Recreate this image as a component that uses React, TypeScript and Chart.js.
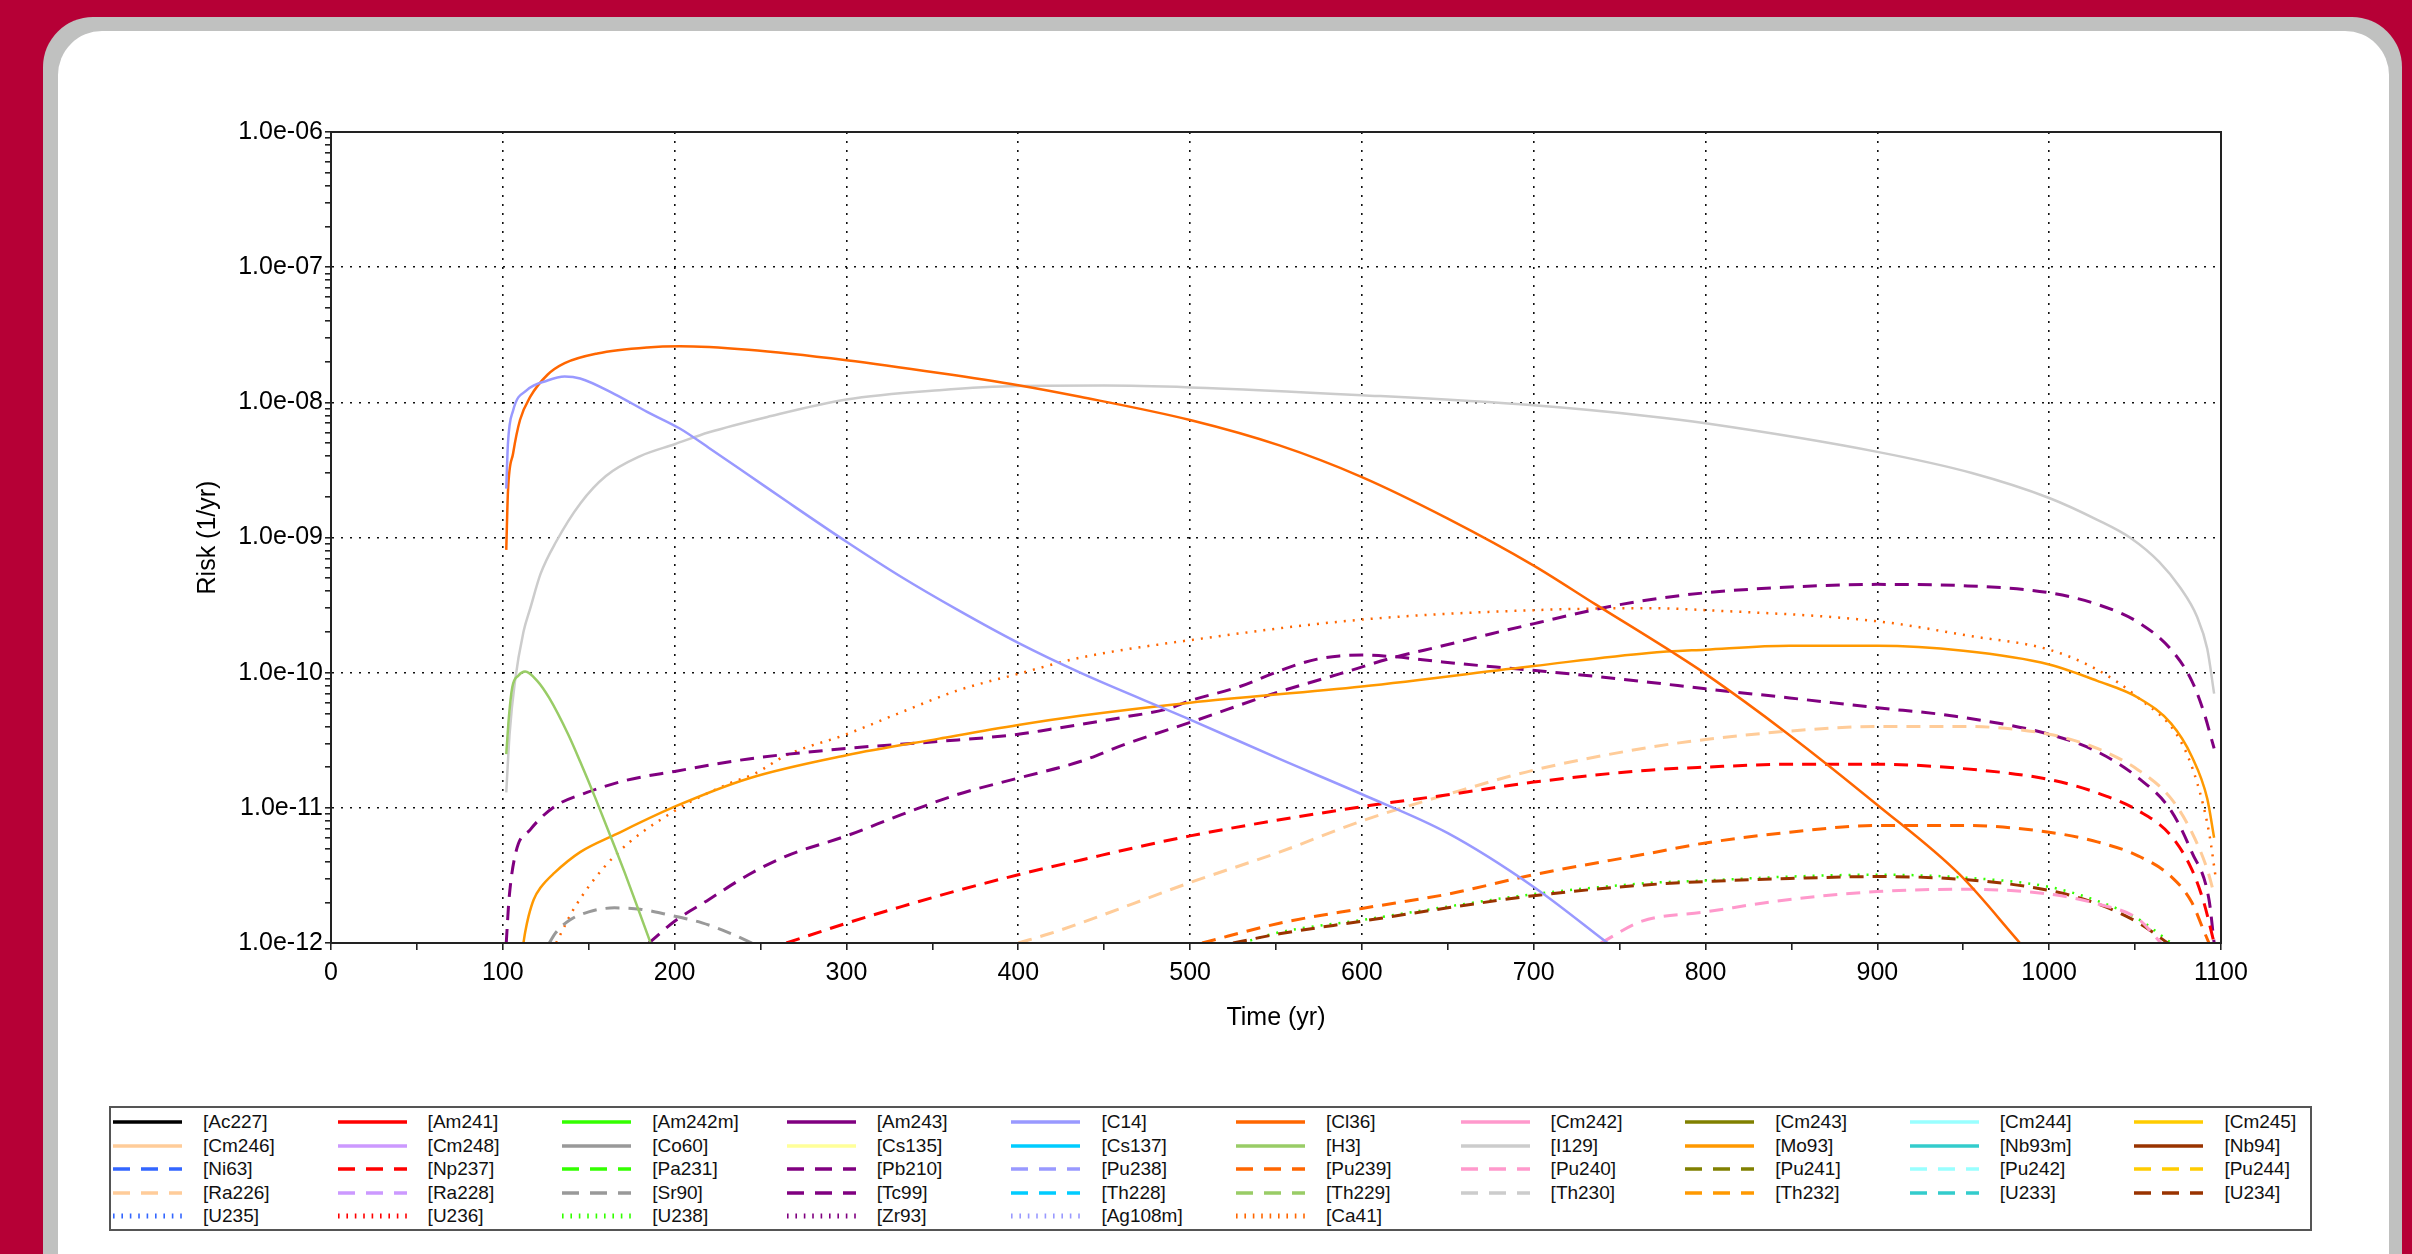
import React, { useEffect, useRef } from 'react';
import { Chart, registerables } from 'chart.js';

Chart.register(...registerables);

const FONT = '"Liberation Sans", Arial, Helvetica, sans-serif';

// ---------- legend entries (row-major, 10 columns) ----------
const NUCLIDES = [
  'Ac227', 'Am241', 'Am242m', 'Am243', 'C14', 'Cl36', 'Cm242', 'Cm243', 'Cm244', 'Cm245',
  'Cm246', 'Cm248', 'Co60', 'Cs135', 'Cs137', 'H3', 'I129', 'Mo93', 'Nb93m', 'Nb94',
  'Ni63', 'Np237', 'Pa231', 'Pb210', 'Pu238', 'Pu239', 'Pu240', 'Pu241', 'Pu242', 'Pu244',
  'Ra226', 'Ra228', 'Sr90', 'Tc99', 'Th228', 'Th229', 'Th230', 'Th232', 'U233', 'U234',
  'U235', 'U236', 'U238', 'Zr93', 'Ag108m', 'Ca41',
];
const COLORS = [
  '#000000', '#ff0000', '#33ff00', '#800080', '#9999ff', '#ff6600', '#ff99cc', '#808000', '#99ffff', '#ffcc00',
  '#ffcc99', '#cc99ff', '#999999', '#ffff99', '#00ccff', '#99cc66', '#cccccc', '#ff9900', '#33cccc', '#993300',
  '#3366ff', '#ff0000', '#33ff00', '#800080', '#9999ff', '#ff6600', '#ff99cc', '#808000', '#99ffff', '#ffcc00',
  '#ffcc99', '#cc99ff', '#999999', '#800080', '#00ccff', '#99cc66', '#cccccc', '#ff9900', '#33cccc', '#993300',
  '#3366ff', '#ff0000', '#33ff00', '#800080', '#9999ff', '#ff6600',
];
const STYLES = [
  'solid', 'solid', 'solid', 'solid', 'solid', 'solid', 'solid', 'solid', 'solid', 'solid',
  'solid', 'solid', 'solid', 'solid', 'solid', 'solid', 'solid', 'solid', 'solid', 'solid',
  'dash', 'dash', 'dash', 'dash', 'dash', 'dash', 'dash', 'dash', 'dash', 'dash',
  'dash', 'dash', 'dash', 'dash', 'dash', 'dash', 'dash', 'dash', 'dash', 'dash',
  'dot', 'dot', 'dot', 'dot', 'dot', 'dot',
];

// ---------- series: [time (yr), risk (1/yr)] ----------
const cl36: [number, number][] = [
  [102, 8.1e-10], [103, 2.2e-9], [106, 4.2e-9], [110, 7.4e-9], [116, 1.1e-8], [126, 1.6e-8],
  [136, 1.95e-8], [155, 2.3e-8], [184, 2.55e-8], [203, 2.6e-8], [243, 2.45e-8], [300, 2.05e-8],
  [354, 1.65e-8], [400, 1.34e-8], [436, 1.1e-8], [500, 7.4e-9], [552, 4.8e-9], [600, 2.8e-9],
  [650, 1.38e-9], [700, 6.2e-10], [736, 3.2e-10], [781, 1.41e-10], [800, 9.8e-11], [847, 3.6e-11],
  [900, 1.05e-11], [948, 3.2e-12], [983, 1.0e-12],
];
const c14: [number, number][] = [
  [102, 2.3e-9], [103, 5e-9], [106, 8.7e-9], [114, 1.23e-8], [126, 1.45e-8], [136, 1.55e-8],
  [145, 1.5e-8], [165, 1.15e-8], [184, 8.5e-9], [203, 6.4e-9], [220, 4.6e-9], [243, 2.9e-9],
  [265, 1.86e-9], [300, 9.3e-10], [332, 5.1e-10], [365, 2.9e-10], [400, 1.66e-10], [436, 1.0e-10],
  [500, 4.5e-11], [552, 2.3e-11], [600, 1.26e-11], [650, 6.5e-12], [700, 2.6e-12], [743, 1e-12],
];
const i129: [number, number][] = [
  [102, 1.3e-11], [104, 3.6e-11], [107, 8.5e-11], [112, 2e-10], [116, 3e-10], [122, 5.4e-10],
  [131, 9.3e-10], [145, 1.78e-9], [160, 2.85e-9], [180, 4.0e-9], [200, 4.9e-9], [220, 6.0e-9],
  [254, 7.8e-9], [300, 1.05e-8], [354, 1.23e-8], [400, 1.32e-8], [450, 1.33e-8], [500, 1.29e-8],
  [600, 1.13e-8], [700, 9.5e-9], [767, 7.9e-9], [800, 7e-9], [900, 4.3e-9], [955, 3.0e-9],
  [1000, 1.96e-9], [1028, 1.35e-9], [1048, 9.8e-10], [1064, 6.6e-10], [1076, 4.3e-10],
  [1086, 2.6e-10], [1092, 1.5e-10], [1096, 7e-11],
];
const h3: [number, number][] = [
  [102, 2.5e-11], [103.6, 4.8e-11], [105.5, 7.8e-11], [109, 9.5e-11], [113, 1.02e-10],
  [120, 8.7e-11], [127, 6.5e-11], [138, 3.5e-11], [145, 2.2e-11], [154, 1.17e-11],
  [165, 5.2e-12], [171, 3.3e-12], [178, 1.9e-12], [186, 1e-12],
];
const mo93: [number, number][] = [
  [112, 1e-12], [113, 1.2e-12], [115, 1.58e-12], [118, 2.1e-12], [122, 2.57e-12], [130, 3.3e-12],
  [145, 4.7e-12], [165, 6.3e-12], [200, 1.02e-11], [243, 1.65e-11], [300, 2.45e-11],
  [354, 3.25e-11], [400, 4.1e-11], [436, 4.8e-11], [500, 6e-11], [600, 7.9e-11], [700, 1.12e-10],
  [767, 1.4e-10], [800, 1.48e-10], [849, 1.58e-10], [900, 1.58e-10], [950, 1.45e-10],
  [1000, 1.15e-10], [1028, 8.7e-11], [1052, 6.5e-11], [1071, 4.2e-11], [1083, 2.4e-11],
  [1092, 1.17e-11], [1096, 6e-12],
];
const ca41: [number, number][] = [
  [131, 1e-12], [142, 1.85e-12], [165, 4.4e-12], [200, 9.5e-12], [231, 1.5e-11], [247, 1.8e-11],
  [265, 2.45e-11], [300, 3.5e-11], [332, 5.1e-11], [365, 7.4e-11], [400, 9.8e-11], [436, 1.29e-10],
  [500, 1.74e-10], [600, 2.47e-10], [700, 2.9e-10], [767, 3e-10], [800, 2.9e-10], [900, 2.4e-10],
  [955, 1.86e-10], [1000, 1.48e-10], [1028, 1.05e-10], [1052, 6.5e-11], [1076, 3.2e-11],
  [1086, 1.55e-11], [1093, 6.6e-12], [1097, 3e-12],
];
const tc99: [number, number][] = [
  [102, 1e-12], [103.6, 2.1e-12], [107.6, 4.7e-12], [116, 6.9e-12], [130, 1.02e-11],
  [149, 1.3e-11], [172, 1.6e-11], [200, 1.86e-11], [243, 2.3e-11], [300, 2.75e-11],
  [354, 3.1e-11], [400, 3.5e-11], [418, 3.8e-11], [462, 4.7e-11], [487, 5.4e-11], [500, 6.2e-11],
  [529, 7.9e-11], [545, 9.5e-11], [558, 1.1e-10], [574, 1.26e-10], [587, 1.33e-10],
  [600, 1.35e-10], [616, 1.32e-10], [647, 1.2e-10], [678, 1.1e-10], [707, 1.02e-10],
  [739, 9.3e-11], [767, 8.5e-11], [800, 7.6e-11], [849, 6.5e-11], [900, 5.5e-11], [943, 4.8e-11],
  [1000, 3.5e-11], [1028, 2.6e-11], [1052, 1.66e-11], [1071, 9.5e-12], [1083, 4.7e-12],
  [1093, 2.1e-12], [1096, 1e-12],
];
const pb210: [number, number][] = [
  [185, 1e-12], [200, 1.45e-12], [220, 2.1e-12], [243, 3.2e-12], [265, 4.4e-12], [300, 6.2e-12],
  [332, 8.9e-12], [365, 1.26e-11], [400, 1.66e-11], [436, 2.2e-11], [462, 2.95e-11],
  [505, 4.5e-11], [547, 6.9e-11], [587, 9.8e-11], [618, 1.29e-10], [647, 1.58e-10],
  [676, 1.95e-10], [703, 2.35e-10], [734, 2.9e-10], [763, 3.4e-10], [800, 3.9e-10],
  [849, 4.3e-10], [900, 4.5e-10], [950, 4.4e-10], [1000, 3.9e-10], [1028, 3.2e-10],
  [1052, 2.35e-10], [1071, 1.48e-10], [1083, 8.7e-11], [1090, 5.1e-11], [1096, 2.75e-11],
];
const sr90: [number, number][] = [
  [127, 1e-12], [131, 1.2e-12], [139, 1.48e-12], [150, 1.7e-12], [165, 1.82e-12], [180, 1.78e-12],
  [196, 1.62e-12], [216, 1.41e-12], [231, 1.2e-12], [245, 1e-12],
];
const np237: [number, number][] = [
  [265, 1e-12], [300, 1.4e-12], [332, 1.86e-12], [365, 2.45e-12], [400, 3.2e-12], [436, 4.1e-12],
  [500, 6.2e-12], [600, 1.02e-11], [650, 1.25e-11], [700, 1.55e-11], [767, 1.9e-11], [800, 2e-11],
  [849, 2.1e-11], [900, 2.1e-11], [950, 1.95e-11], [1000, 1.62e-11], [1028, 1.29e-11],
  [1052, 9.5e-12], [1071, 6.2e-12], [1083, 3.5e-12], [1090, 2e-12], [1096, 1e-12],
];
const ra226: [number, number][] = [
  [400, 1e-12], [418, 1.17e-12], [436, 1.4e-12], [500, 2.8e-12], [552, 4.7e-12], [600, 8e-12],
  [650, 1.26e-11], [700, 1.9e-11], [767, 2.8e-11], [800, 3.2e-11], [849, 3.7e-11], [900, 4e-11],
  [950, 4e-11], [1000, 3.5e-11], [1028, 2.75e-11], [1052, 1.9e-11], [1071, 1.17e-11],
  [1083, 6.6e-12], [1092, 3.5e-12], [1096, 2.3e-12],
];
const pu239: [number, number][] = [
  [507, 1e-12], [552, 1.4e-12], [600, 1.8e-12], [650, 2.3e-12], [700, 3.2e-12], [767, 4.6e-12],
  [800, 5.5e-12], [849, 6.6e-12], [900, 7.4e-12], [950, 7.4e-12], [1000, 6.6e-12], [1028, 5.6e-12],
  [1052, 4.4e-12], [1071, 3.1e-12], [1083, 2e-12], [1090, 1.23e-12], [1093, 1e-12],
];
const u234: [number, number][] = [
  [525, 1e-12], [552, 1.17e-12], [600, 1.45e-12], [650, 1.82e-12], [700, 2.24e-12], [767, 2.7e-12],
  [800, 2.85e-12], [849, 3e-12], [900, 3.1e-12], [950, 2.95e-12], [1000, 2.45e-12], [1028, 1.95e-12],
  [1052, 1.41e-12], [1069, 1e-12],
];
const u238: [number, number][] = [
  [530, 1e-12], [552, 1.2e-12], [600, 1.48e-12], [650, 1.86e-12], [700, 2.3e-12], [767, 2.78e-12],
  [800, 2.9e-12], [849, 3.1e-12], [900, 3.2e-12], [950, 3.05e-12], [1000, 2.6e-12], [1028, 2.05e-12],
  [1052, 1.5e-12], [1071, 1e-12],
];
const pu240: [number, number][] = [
  [739, 1e-12], [763, 1.45e-12], [800, 1.7e-12], [849, 2.1e-12], [900, 2.4e-12], [950, 2.5e-12],
  [1000, 2.3e-12], [1028, 1.95e-12], [1052, 1.5e-12], [1065, 1e-12],
];

const SERIES: Record<string, [number, number][]> = {
  Cl36: cl36, C14: c14, I129: i129, H3: h3, Mo93: mo93, Ca41: ca41, Tc99: tc99, Pb210: pb210,
  Sr90: sr90, Np237: np237, Ra226: ra226, Pu239: pu239, U234: u234, U238: u238, Pu240: pu240,
};

// ---------- axes ----------
const X_MIN = 0;
const X_MAX = 1100;
const X_LABELS = ['0', '100', '200', '300', '400', '500', '600', '700', '800', '900', '1000', '1100'];
const Y_EXPONENTS = [-12, -11, -10, -9, -8, -7, -6];
const Y_LABELS = ['1.0e-12', '1.0e-11', '1.0e-10', '1.0e-09', '1.0e-08', '1.0e-07', '1.0e-06'];

const decadeIndex = (v: number): number => {
  if (!(v > 0)) return -1;
  const e = Math.log10(v);
  const r = Math.round(e);
  if (Math.abs(e - r) > 1e-6) return -1;
  return Y_EXPONENTS.indexOf(r);
};

const dashFor = (s: string): number[] => (s === 'dash' ? [14, 9] : s === 'dot' ? [2, 7] : []);
const widthFor = (s: string): number => (s === 'dash' ? 3 : 2.5);

const framePlugin = {
  id: 'frame',
  afterDatasetsDraw(chart: any) {
    const { ctx, chartArea } = chart;
    ctx.save();
    ctx.strokeStyle = '#222';
    ctx.lineWidth = 2;
    ctx.strokeRect(chartArea.left, chartArea.top, chartArea.right - chartArea.left, chartArea.bottom - chartArea.top);
    ctx.restore();
  },
};

function ChartCanvas() {
  const ref = useRef<HTMLCanvasElement | null>(null);
  useEffect(() => {
    if (!ref.current) return;
    const datasets = NUCLIDES.map((name, i) => ({
      label: name,
      data: (SERIES[name] || []).map(([x, y]) => ({ x, y })),
      borderColor: COLORS[i],
      backgroundColor: COLORS[i],
      borderWidth: widthFor(STYLES[i]),
      borderDash: dashFor(STYLES[i]),
      pointRadius: 0,
      fill: false,
      cubicInterpolationMode: 'monotone' as const,
    }));
    const chart = new Chart(ref.current, {
      type: 'line',
      data: { datasets },
      options: {
        animation: false,
        responsive: false,
        maintainAspectRatio: false,
        devicePixelRatio: 1,
        layout: { padding: { left: 131, top: 132, right: 191, bottom: 57 } },
        plugins: { legend: { display: false }, tooltip: { enabled: false }, title: { display: false } },
        scales: {
          x: {
            type: 'linear',
            min: X_MIN,
            max: X_MAX,
            afterFit: (s: any) => { s.height = 100; },
            ticks: {
              stepSize: 50,
              autoSkip: false,
              maxRotation: 0,
              padding: 8,
              color: '#000',
              font: { family: FONT, size: 25 },
              callback: (v: any) => {
                const n = Number(v);
                return n % 100 === 0 ? X_LABELS[n / 100] : '';
              },
            },
            grid: {
              color: (c: any) => {
                const v = c.tick ? c.tick.value : -1;
                return v % 100 === 0 && v > X_MIN && v < X_MAX ? '#111' : 'rgba(0,0,0,0)';
              },
              lineWidth: 1.6,
              tickColor: '#222',
              tickLength: 7,
              tickWidth: 1.6,
            },
            border: { display: true, color: '#222', width: 2, dash: [2, 7] },
            title: {
              display: true,
              text: 'Time (yr)',
              color: '#000',
              font: { family: FONT, size: 25 },
              padding: { top: 0, bottom: 10 },
            },
          },
          y: {
            type: 'logarithmic',
            min: 1e-12,
            max: 1e-6,
            afterFit: (s: any) => { s.width = 200; },
            afterBuildTicks: (s: any) => {
              const t: { value: number }[] = [];
              for (let k = 0; k < Y_EXPONENTS.length - 1; k++) {
                for (let m = 1; m <= 9; m++) t.push({ value: m * Math.pow(10, Y_EXPONENTS[k]) });
              }
              t.push({ value: Math.pow(10, Y_EXPONENTS[Y_EXPONENTS.length - 1]) });
              s.ticks = t;
            },
            ticks: {
              autoSkip: false,
              padding: 2,
              color: '#000',
              font: { family: FONT, size: 25 },
              callback: (v: any) => {
                const idx = decadeIndex(Number(v));
                return idx >= 0 ? Y_LABELS[idx] : '';
              },
            },
            grid: {
              color: (c: any) => {
                const v = c.tick ? c.tick.value : 0;
                const idx = decadeIndex(v);
                return idx > 0 && idx < Y_EXPONENTS.length - 1 ? '#111' : 'rgba(0,0,0,0)';
              },
              lineWidth: 1.6,
              tickColor: '#222',
              tickLength: 6,
              tickWidth: 1.6,
            },
            border: { display: true, color: '#222', width: 2, dash: [2, 7] },
            title: {
              display: true,
              text: 'Risk (1/yr)',
              color: '#000',
              font: { family: FONT, size: 25 },
              padding: { top: 62, bottom: 0 },
            },
          },
        },
      } as any,
      plugins: [framePlugin],
    });
    return () => chart.destroy();
  }, []);
  return (
    <canvas
      ref={ref}
      width={2412}
      height={1100}
      style={{ position: 'absolute', left: 0, top: 0, width: 2412, height: 1100 }}
    />
  );
}

function LegendSample({ color, style }: { color: string; style: string }) {
  const dash = style === 'dash' ? '17 11' : style === 'dot' ? '1.6 6.8' : undefined;
  const sw = style === 'dot' ? 5 : 3.5;
  return (
    <svg width={70} height={8} style={{ position: 'absolute', left: 2, top: -4 }}>
      <line x1={0} y1={4} x2={69} y2={4} stroke={color} strokeWidth={sw} strokeDasharray={dash} />
    </svg>
  );
}

function Legend() {
  const COL_W = 224.6;
  const ROW_H = 23.5;
  return (
    <div
      style={{
        position: 'absolute', left: 109, top: 1106, width: 2203, height: 125,
        border: '2px solid #555', boxSizing: 'border-box', background: '#fff',
      }}
    >
      {NUCLIDES.map((name, i) => {
        const c = i % 10;
        const r = Math.floor(i / 10);
        return (
          <div key={name} style={{ position: 'absolute', left: c * COL_W, top: 14 + r * ROW_H, height: 0 }}>
            <LegendSample color={COLORS[i]} style={STYLES[i]} />
            <span
              style={{
                position: 'absolute', left: 92, top: -11, whiteSpace: 'nowrap',
                fontFamily: FONT, fontSize: 19, lineHeight: '22px', color: '#111',
              }}
            >
              [{name}]
            </span>
          </div>
        );
      })}
    </div>
  );
}

export default function App() {
  return (
    <div style={{ position: 'fixed', left: 0, top: 0, width: 2412, height: 1254, overflow: 'hidden', background: '#b60036' }}>
      <div style={{ position: 'absolute', left: 43, top: 17, width: 2359, height: 1320, background: '#c0c1c0', borderRadius: 50 }} />
      <div style={{ position: 'absolute', left: 58, top: 31, width: 2331, height: 1320, background: '#ffffff', borderRadius: 44 }} />
      <ChartCanvas />
      <Legend />
    </div>
  );
}
